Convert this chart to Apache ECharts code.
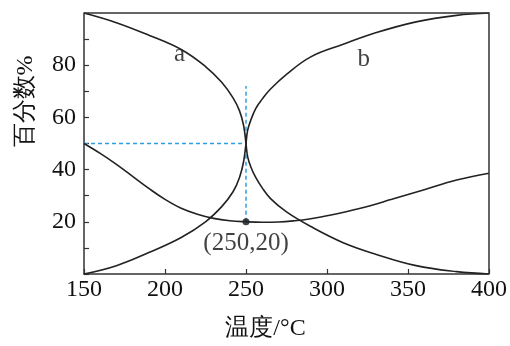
<!DOCTYPE html>
<html>
<head>
<meta charset="utf-8">
<script src="https://cdn.jsdelivr.net/npm/echarts@6/dist/echarts.min.js"></script>
<style>
  html, body { margin: 0; padding: 0; background: #fff; }
  #chart { width: 510px; height: 346px; }
</style>
</head>
<body>
<div id="chart"></div>
<script>
// curve a
var tempA = [150, 170, 190, 210, 225, 235, 242, 246, 248.5, 250, 251, 253, 256, 260, 265, 275, 290, 310, 330, 355, 380, 400];
var valA = [100, 96.3, 91.5, 86, 79.5, 73.5, 67.5, 62.5, 57, 50, 45, 41, 37, 33, 29, 23.8, 18.2, 12, 7.6, 3.2, 0.9, 0];

// curve b
var tempB = [150, 170, 190, 210, 225, 235, 242, 246, 248.5, 250, 251, 253, 256, 260, 265, 275, 290, 310, 330, 355, 380, 400];
var valB = [0, 3.2, 8.2, 14, 20, 25.8, 31.5, 37, 43, 50, 55, 59, 63.4, 67, 70.8, 76.5, 83.2, 88, 92.4, 96.6, 99.1, 100];

// lower curve (min at 250,20)
var tempC = [150, 160, 170, 180, 190, 200, 210, 220, 230, 240, 250, 260, 270, 280, 290, 300, 320, 340, 360, 380, 400];
var valC = [50, 46.2, 42, 37.4, 32.8, 28.6, 25.2, 22.9, 21.3, 20.4, 20, 19.8, 19.9, 20.4, 21.2, 22.3, 25.1, 28.6, 32.3, 36, 38.6];

// guide lines and marked point
var guideH = [[150, 50], [250, 50]];
var guideV = [[250, 20], [250, 72]];
var minPoint = [250, 20];
var curveLabels = [{name: "a", value: [209, 84]}, {name: "b", value: [322.7, 82.3]}];

var xTicks = [150, 200, 250, 300, 350, 400];
var yLabels = [20, 40, 60, 80];

function pairs(xs, ys) {
    return xs.map(function(x, i) { return [x, ys[i]]; });
}

var serif = "Liberation Serif";
var axisColor = "#333";
var ink = "#111";
var guideColor = "#2f9fde";

var option = {
    animation: false,
    grid: {left: 84, right: 15, top: 13, bottom: 68},
    xAxis: {
        type: "value",
        min: 150,
        max: 400,
        interval: 50,
        name: "温度/°C",
        nameLocation: "middle",
        nameGap: 43,
        nameTextStyle: {fontFamily: serif, fontSize: 24, color: ink, padding: [0, 42, 0, 0]},
        axisLine: {lineStyle: {color: axisColor, width: 1.5}},
        axisTick: {inside: true, length: 5, lineStyle: {color: axisColor, width: 1.2}},
        axisLabel: {
            fontFamily: serif, fontSize: 24, color: ink, margin: 4,
            formatter: function(v) { return xTicks.indexOf(v) >= 0 ? String(v) : ""; }
        },
        splitLine: {show: false}
    },
    yAxis: {
        type: "value",
        min: 0,
        max: 100,
        interval: 10,
        name: "百分数%",
        nameLocation: "middle",
        nameGap: 46,
        nameRotate: 90,
        nameTextStyle: {fontFamily: serif, fontSize: 24, color: ink, padding: [0, 0, 0, 84]},
        axisLine: {lineStyle: {color: axisColor, width: 1.5}},
        axisTick: {inside: true, length: 5, lineStyle: {color: axisColor, width: 1.2}},
        axisLabel: {
            fontFamily: serif, fontSize: 24, color: ink, margin: 8,
            formatter: function(v) { return yLabels.indexOf(v) >= 0 ? String(v) : ""; }
        },
        splitLine: {show: false}
    },
    series: [
        {
            type: "line", data: pairs(tempA, valA), smooth: 0.4,
            showSymbol: false, lineStyle: {color: "#222", width: 1.6}
        },
        {
            type: "line", data: pairs(tempB, valB), smooth: 0.4,
            showSymbol: false, lineStyle: {color: "#222", width: 1.6}
        },
        {
            type: "line", data: pairs(tempC, valC), smooth: 0.4,
            showSymbol: false, lineStyle: {color: "#222", width: 1.6}
        },
        {
            type: "line", data: guideH, showSymbol: false, z: 1,
            lineStyle: {color: guideColor, width: 1.5, type: [4, 3]}
        },
        {
            type: "line", data: guideV, showSymbol: false, z: 1,
            lineStyle: {color: guideColor, width: 1.5, type: [4, 3]}
        },
        {
            type: "scatter", data: [minPoint], symbolSize: 7,
            itemStyle: {color: "#111"},
            label: {
                show: true, position: "bottom", distance: 6,
                formatter: "(250,20)", fontFamily: serif, fontSize: 25, color: ink
            }
        },
        {
            type: "scatter", data: curveLabels, symbolSize: 0,
            label: {
                show: true, position: "inside", formatter: "{b}",
                fontFamily: serif, fontSize: 25, color: ink
            }
        }
    ]
};

var chart = echarts.init(document.getElementById("chart"));
chart.setOption(option);

// top and right border lines of the plot box, from the axes' own scale
var tl = chart.convertToPixel({gridIndex: 0}, [150, 100]);
var br = chart.convertToPixel({gridIndex: 0}, [400, 0]);
chart.setOption({
    graphic: [{
        type: "polyline",
        shape: {points: [[tl[0], tl[1]], [br[0], tl[1]], [br[0], br[1]]]},
        style: {stroke: axisColor, lineWidth: 1.5, fill: null},
        z: 10
    }]
});
</script>
</body>
</html>
